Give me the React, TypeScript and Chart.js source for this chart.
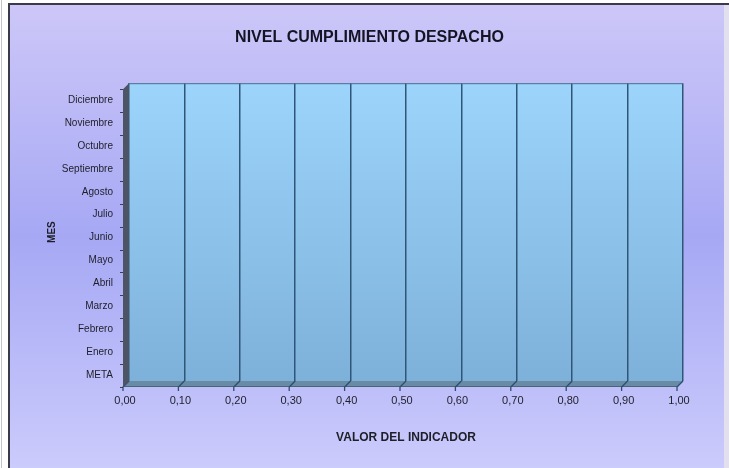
import React, { useEffect, useRef } from "react";
import { Chart, registerables } from "chart.js";

Chart.register(...registerables);

// Categories (bottom to top) and the indicator values per month (no data recorded yet)
const MESES = [
  "META",
  "Enero",
  "Febrero",
  "Marzo",
  "Abril",
  "Mayo",
  "Junio",
  "Julio",
  "Agosto",
  "Septiembre",
  "Octubre",
  "Noviembre",
  "Diciembre",
];
const VALORES: (number | null)[] = [
  null, null, null, null, null, null, null, null, null, null, null, null, null,
];

// Value axis range
const X_MIN = 0;
const X_MAX = 1;
const X_STEP = 0.1;

const TITULO = "NIVEL CUMPLIMIENTO DESPACHO";
const TITULO_X = "VALOR DEL INDICADOR";
const TITULO_Y = "MES";

const W = 729;
const H = 468;
const DEPTH = 6; // 3D depth of the wall and floor

const SANS = 'Arial, "Liberation Sans", Helvetica, sans-serif';

// Outer frame, lavender background and the back wall gradient
const backdrop = {
  id: "backdrop",
  beforeDraw(chart: any) {
    const { ctx, chartArea: a } = chart;
    ctx.save();
    ctx.fillStyle = "#ffffff";
    ctx.fillRect(0, 0, W, H);

    const g = ctx.createLinearGradient(0, 5, 0, H);
    g.addColorStop(0, "#cdc7f8");
    g.addColorStop(0.5, "#a6a8f4");
    g.addColorStop(1, "#cbcbfc");
    ctx.fillStyle = g;
    ctx.fillRect(10, 5, W - 15, H - 5);

    ctx.fillStyle = "#e2e0ee";
    ctx.fillRect(W - 5, 5, 5, H - 5);

    ctx.strokeStyle = "#c4c4cc";
    ctx.lineWidth = 1;
    ctx.beginPath();
    ctx.moveTo(1.5, 0);
    ctx.lineTo(1.5, H);
    ctx.stroke();

    ctx.strokeStyle = "#3a3a48";
    ctx.lineWidth = 2;
    ctx.beginPath();
    ctx.moveTo(9, H);
    ctx.lineTo(9, 4);
    ctx.lineTo(W, 4);
    ctx.stroke();

    const wall = ctx.createLinearGradient(0, a.top, 0, a.bottom);
    wall.addColorStop(0, "#9cd4fb");
    wall.addColorStop(1, "#7eb1d9");
    ctx.fillStyle = wall;
    ctx.fillRect(a.left, a.top, a.right - a.left, a.bottom - a.top);
    ctx.restore();
  },
};

// Side wall, floor and tick marks of the 3D frame
const frame3d = {
  id: "frame3d",
  beforeDatasetsDraw(chart: any) {
    const { ctx, chartArea: a } = chart;
    const xs = chart.scales.x;
    ctx.save();

    // top edge of the back wall
    ctx.strokeStyle = "#4a6d8c";
    ctx.lineWidth = 1;
    ctx.beginPath();
    ctx.moveTo(a.left, a.top + 0.5);
    ctx.lineTo(a.right, a.top + 0.5);
    ctx.stroke();

    // floor
    ctx.fillStyle = "#6a8ba6";
    ctx.beginPath();
    ctx.moveTo(a.left, a.bottom);
    ctx.lineTo(a.right, a.bottom);
    ctx.lineTo(a.right - DEPTH, a.bottom + DEPTH);
    ctx.lineTo(a.left - DEPTH, a.bottom + DEPTH);
    ctx.closePath();
    ctx.fill();
    ctx.strokeStyle = "#48657c";
    ctx.beginPath();
    ctx.moveTo(a.left - DEPTH, a.bottom + DEPTH - 0.5);
    ctx.lineTo(a.right - DEPTH, a.bottom + DEPTH - 0.5);
    ctx.stroke();

    // gridlines running across the floor, plus tick marks
    ctx.strokeStyle = "#2c4f6e";
    ctx.lineWidth = 1.3;
    xs.ticks.forEach((t: any) => {
      const px = xs.getPixelForValue(t.value);
      ctx.beginPath();
      ctx.moveTo(px, a.bottom);
      ctx.lineTo(px - DEPTH, a.bottom + DEPTH);
      ctx.lineTo(px - DEPTH, a.bottom + DEPTH + 4);
      ctx.stroke();
    });

    // left side wall
    ctx.fillStyle = "#4d5465";
    ctx.beginPath();
    ctx.moveTo(a.left - DEPTH, a.top + DEPTH);
    ctx.lineTo(a.left, a.top);
    ctx.lineTo(a.left, a.bottom);
    ctx.lineTo(a.left - DEPTH, a.bottom + DEPTH);
    ctx.closePath();
    ctx.fill();

    // category tick marks on the side wall
    ctx.strokeStyle = "#3a4050";
    ctx.lineWidth = 1;
    const band = (a.bottom - a.top) / MESES.length;
    for (let i = 0; i <= MESES.length; i++) {
      const py = Math.round(a.top + i * band + DEPTH) + 0.5;
      ctx.beginPath();
      ctx.moveTo(a.left - DEPTH - 3, py);
      ctx.lineTo(a.left - DEPTH, py);
      ctx.stroke();
    }
    ctx.restore();
  },
};

export default function App() {
  const ref = useRef<HTMLCanvasElement | null>(null);

  useEffect(() => {
    if (!ref.current) return;
    const chart = new Chart(ref.current, {
      type: "bar",
      data: {
        labels: MESES,
        datasets: [
          {
            label: "Nivel de cumplimiento",
            data: VALORES,
            backgroundColor: "#5b9bd5",
          },
        ],
      },
      options: {
        indexAxis: "y",
        responsive: false,
        animation: false,
        devicePixelRatio: 1,
        layout: { padding: { left: 10, right: 0, top: 0, bottom: 0 } },
        plugins: {
          legend: { display: false },
          tooltip: { enabled: false },
          title: {
            display: true,
            text: TITULO,
            color: "#141424",
            font: { family: SANS, size: 16, weight: "bold" },
            padding: { top: 28, bottom: 36 },
          },
        },
        scales: {
          x: {
            type: "linear",
            min: X_MIN,
            max: X_MAX,
            ticks: {
              stepSize: X_STEP,
              color: "#1e1e28",
              font: { family: SANS, size: 11 },
              padding: 13,
              labelOffset: -4,
              callback: (v: any) => Number(v).toFixed(2).replace(".", ","),
            },
            grid: {
              display: true,
              drawTicks: false,
              color: "#2f5676",
              lineWidth: 1.5,
            },
            border: { display: false },
            title: {
              display: true,
              text: TITULO_X,
              color: "#1e1e28",
              font: { family: SANS, size: 12, weight: "bold" },
              padding: { top: 0, bottom: 23 },
            },
            afterFit: (s: any) => {
              s.height = 87;
              s.paddingRight = 46;
            },
          },
          y: {
            type: "category",
            reverse: true,
            ticks: {
              color: "#1e1e28",
              font: { family: SANS, size: 10 },
              padding: 16,
              labelOffset: 5.5,
              autoSkip: false,
            },
            grid: { display: false, drawTicks: false },
            border: { display: false },
            title: {
              display: true,
              text: TITULO_Y,
              color: "#1e1e28",
              font: { family: SANS, size: 10, weight: "bold" },
              padding: { top: 36, bottom: 0 },
            },
            afterFit: (s: any) => {
              s.width = 119;
            },
          },
        },
      },
      plugins: [backdrop, frame3d],
    });
    return () => chart.destroy();
  }, []);

  return (
    <div style={{ position: "fixed", left: 0, top: 0, width: W, height: H }}>
      <canvas ref={ref} width={W} height={H} style={{ display: "block" }} />
    </div>
  );
}
